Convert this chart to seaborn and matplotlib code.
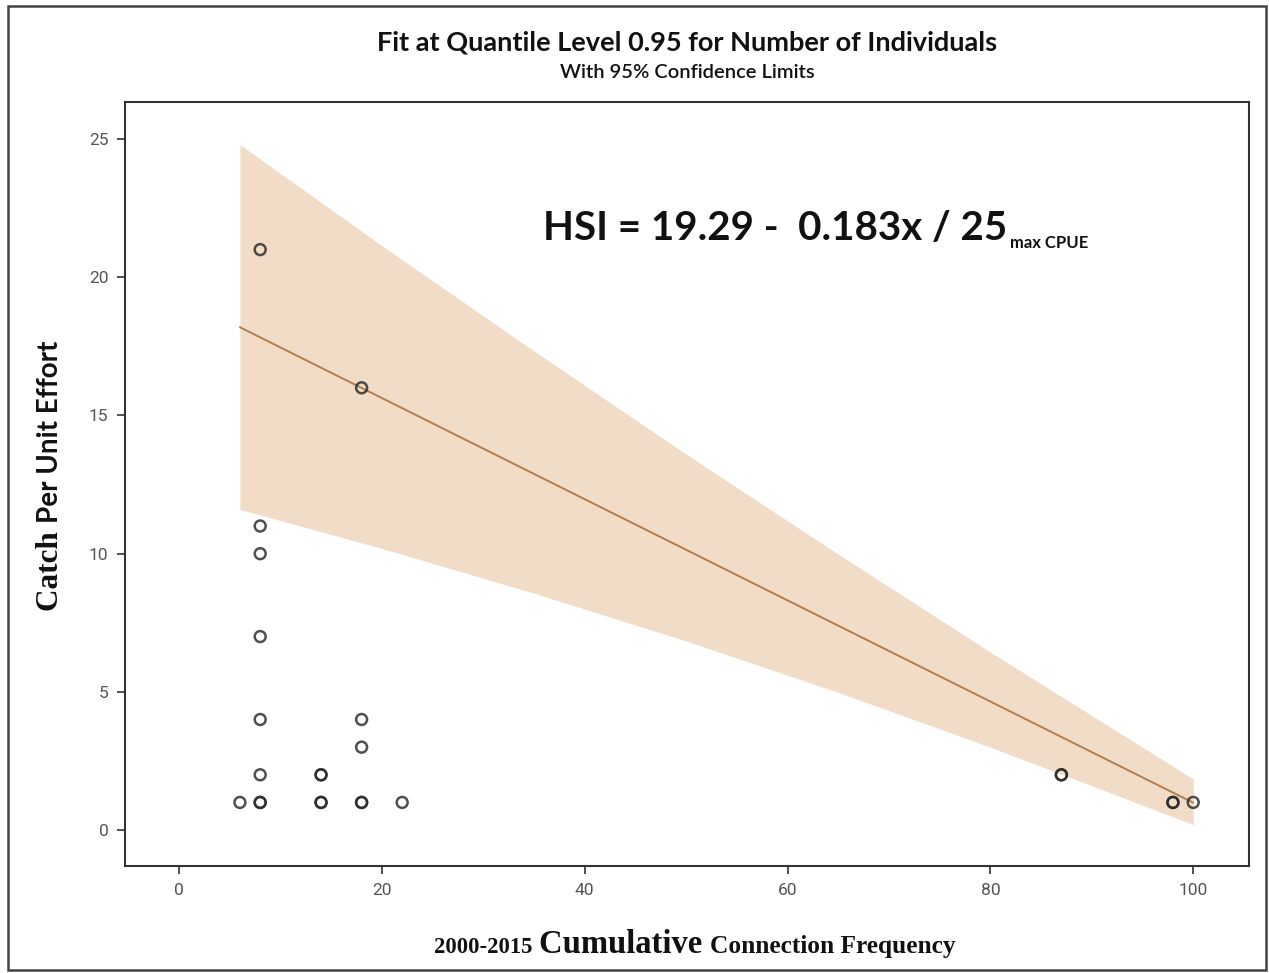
import numpy as np
import pandas as pd
import seaborn as sns
import matplotlib.pyplot as plt
from matplotlib.patches import Rectangle

# Observed sites: cumulative connection frequency vs catch per unit effort
freq = [6, 8, 8, 8, 8, 8, 8, 8, 8, 14, 14, 14, 14, 18, 18, 18, 18, 18, 22, 87, 87, 98, 98, 100]
cpue = [1, 1, 1, 2, 4, 7, 10, 11, 21, 1, 1, 2, 2, 1, 1, 3, 4, 16, 1, 2, 2, 1, 1, 1]

# 0.95 quantile regression fit
fit_intercept = 19.29
fit_slope = -0.183
fit_range = [6, 100]

# 95% confidence limits of the fit
band_x = [6, 20, 35, 50, 65, 80, 100]
band_hi = [24.8, 21.14, 17.33, 13.6, 9.98, 6.44, 1.85]
band_lo = [11.6, 10.19, 8.57, 6.84, 4.98, 3.0, 0.2]

xticks = [0, 20, 40, 60, 80, 100]
yticks = [0, 5, 10, 15, 20, 25]

title = "Fit at Quantile Level 0.95 for Number of Individuals"
subtitle = "With 95% Confidence Limits"
equation = "HSI = 19.29 -  0.183x / 25"
equation_sub = "max CPUE"

sns.set_theme(style="ticks")
plt.rcParams["font.family"] = ["Roboto", "DejaVu Sans"]

W, H = 1269, 973
fig = plt.figure(figsize=(W / 100, H / 100), dpi=100)
ax = fig.add_axes([125 / W, 1 - 866 / H, (1249 - 125) / W, (866 - 102) / H])

points = pd.DataFrame({"freq": freq, "cpue": cpue})
fit = pd.DataFrame({"freq": fit_range})
fit["cpue"] = fit_intercept + fit_slope * fit["freq"]

ax.fill_between(band_x, band_lo, band_hi, color="#f0dcc7", lw=0, zorder=1)
sns.lineplot(data=fit, x="freq", y="cpue", color="#b47d4c", lw=1.4, ax=ax, zorder=2)
sns.scatterplot(data=points, x="freq", y="cpue", marker="o", s=62, ax=ax, zorder=3)
pts = ax.collections[-1]
pts.set_facecolor("none")
pts.set_edgecolor((0.16, 0.16, 0.16, 0.82))
pts.set_linewidth(1.8)

ax.set_xlim(-5.33, 105.5)
ax.set_ylim(-1.3, 26.34)
ax.set_xticks(xticks)
ax.set_yticks(yticks)
ax.set_xlabel("")
ax.set_ylabel("")
for s in ax.spines.values():
    s.set_visible(True)
    s.set_color("#333333")
    s.set_linewidth(1.5)
ax.tick_params(direction="out", length=6, width=1.2, color="#333333",
               labelcolor="#555555", labelsize=12.5, pad=6)
for lab in ax.get_xticklabels() + ax.get_yticklabels():
    lab.set_fontfamily("Roboto")

# Titles
fig.text(687 / W, 1 - 42 / H, title, ha="center", va="center",
         fontfamily="Lato", fontweight="bold", fontsize=19.5, color="#111111")
fig.text(687 / W, 1 - 72 / H, subtitle, ha="center", va="center",
         fontfamily="Lato", fontweight="semibold", fontsize=14.5, color="#111111")

# Fit equation with subscript
eq = ax.text(35.9, 21.35, equation, ha="left", va="baseline",
             fontfamily="Lato", fontweight="bold", fontsize=29, color="#111111")
ax.annotate(equation_sub, xy=(1, 0), xycoords=eq, xytext=(2, -3),
            textcoords="offset points", ha="left", va="bottom",
            fontfamily="Lato", fontweight="bold", fontsize=12, color="#111111")

fig.canvas.draw()
renderer = fig.canvas.get_renderer()


def text_row(pieces, center_px, base_px, vertical=False):
    """Lay out mixed-font pieces along a shared baseline, centred on center_px."""
    objs = []
    for txt, fam, size in pieces:
        t = fig.text(0, 0, txt, fontfamily=fam, fontweight="bold", fontsize=size,
                     color="#111111", ha="left", va="baseline",
                     rotation=90 if vertical else 0, rotation_mode="anchor")
        objs.append(t)
    fig.canvas.draw()
    sizes = []
    for t in objs:
        bb = t.get_window_extent(renderer)
        sizes.append(bb.height if vertical else bb.width)
    total = sum(sizes)
    pos = center_px - total / 2
    for t, sz in zip(objs, sizes):
        if vertical:
            t.set_position((base_px / W, pos / H))
        else:
            t.set_position((pos / W, base_px / H))
        pos += sz


# Axis titles
text_row([("2000-2015 ", "Liberation Serif", 16.3),
          ("Cumulative ", "Liberation Serif", 23.5),
          ("Connection Frequency", "Liberation Serif", 18.3)],
         center_px=695, base_px=H - 953)
text_row([("Catch ", "Liberation Serif", 22.5),
          ("Per Unit Effort", "Lato", 20)],
         center_px=H - 476, base_px=58, vertical=True)

fig.patches.append(Rectangle((8 / W, 3 / H), 1258 / W, 964 / H, transform=fig.transFigure,
                             fill=False, ec="#444444", lw=1.8))

fig.savefig("out.png", dpi=100)
